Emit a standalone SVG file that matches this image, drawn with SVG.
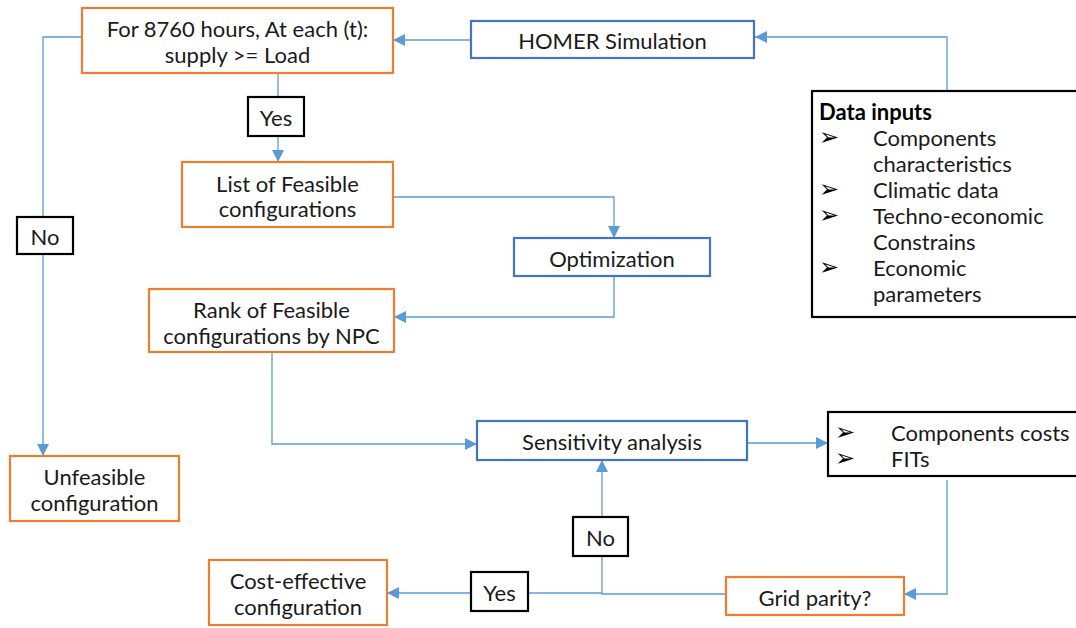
<svg xmlns="http://www.w3.org/2000/svg" width="1076" height="628" viewBox="0 0 1076 628">
<style>
.bg{fill:#ffffff}
.or{fill:#fff;stroke:#ED7D31;stroke-width:2.2}
.bl{fill:#fff;stroke:#4472C4;stroke-width:2.2}
.bk{fill:#fff;stroke:#000;stroke-width:2.2}
.t{font-family:Lato,"Open Sans",sans-serif;font-size:22px;fill:#1a1a1a;text-anchor:middle;dominant-baseline:central}
.tl{font-family:Lato,"Open Sans",sans-serif;font-size:22px;fill:#1a1a1a;dominant-baseline:central}
.tb{font-weight:bold;fill:#000}
.bu{font-family:"DejaVu Sans",sans-serif;font-size:24px;fill:#000;dominant-baseline:central}
.c{fill:none;stroke:#5B9BD5;stroke-width:1.3}
</style>
<defs>
<marker id="ah" markerUnits="userSpaceOnUse" markerWidth="12" markerHeight="12" viewBox="0 0 12 12" refX="12" refY="6" orient="auto">
<path d="M0,0 L12,6 L0,12 Z" fill="#5B9BD5"/>
</marker>
</defs>
<rect class="bg" x="0" y="0" width="1076" height="628"/>
<g id="connectors">
<path class="c" d="M471,40 H393" marker-end="url(#ah)"/>
<path class="c" d="M947,91 V37 H755" marker-end="url(#ah)"/>
<path class="c" d="M82,37 H43 V456" marker-end="url(#ah)"/>
<path class="c" d="M278,73 V162" marker-end="url(#ah)"/>
<path class="c" d="M393,197 H614 V238" marker-end="url(#ah)"/>
<path class="c" d="M614,276 V317 H394" marker-end="url(#ah)"/>
<path class="c" d="M272,352 V444 H477" marker-end="url(#ah)"/>
<path class="c" d="M747,443 H828" marker-end="url(#ah)"/>
<path class="c" d="M947,480 V594 H904" marker-end="url(#ah)"/>
<path class="c" d="M726,594 H602 V460" marker-end="url(#ah)"/>
<path class="c" d="M602,593 H387" marker-end="url(#ah)"/>
</g>
<g id="check">
<rect class="or" x="82" y="8" width="311" height="65"/>
<text class="t" x="237.5" y="28">For 8760 hours, At each (t):</text>
<text class="t" x="237.5" y="54">supply &gt;= Load</text>
</g>
<g id="homer">
<rect class="bl" x="471" y="21" width="283" height="37"/>
<text class="t" x="612.5" y="40">HOMER Simulation</text>
</g>
<g id="datainputs">
<rect class="bk" x="812" y="91" width="266" height="226"/>
<text class="tl tb" x="819" y="111">Data inputs</text>
<text class="bu" x="819" y="137">➢</text>
<text class="tl" x="873" y="137">Components</text>
<text class="tl" x="873" y="163">characteristics</text>
<text class="bu" x="819" y="189">➢</text>
<text class="tl" x="873" y="189">Climatic data</text>
<text class="bu" x="819" y="215">➢</text>
<text class="tl" x="873" y="215">Techno-economic</text>
<text class="tl" x="873" y="241">Constrains</text>
<text class="bu" x="819" y="267">➢</text>
<text class="tl" x="873" y="267">Economic</text>
<text class="tl" x="873" y="293">parameters</text>
</g>
<g id="yes1">
<rect class="bk" x="248" y="97" width="56" height="39"/>
<text class="t" x="276" y="117">Yes</text>
</g>
<g id="list">
<rect class="or" x="182" y="162" width="211" height="65"/>
<text class="t" x="287.5" y="183">List of Feasible</text>
<text class="t" x="287.5" y="208">configurations</text>
</g>
<g id="no1">
<rect class="bk" x="17" y="217" width="56" height="37"/>
<text class="t" x="45" y="236">No</text>
</g>
<g id="optimization">
<rect class="bl" x="514" y="238" width="196" height="38"/>
<text class="t" x="612" y="258">Optimization</text>
</g>
<g id="rank">
<rect class="or" x="149" y="289" width="245" height="63"/>
<text class="t" x="271.5" y="309">Rank of Feasible</text>
<text class="t" x="271.5" y="335">configurations by NPC</text>
</g>
<g id="sensitivity">
<rect class="bl" x="477" y="421" width="270" height="39"/>
<text class="t" x="612" y="441">Sensitivity analysis</text>
</g>
<g id="costs">
<rect class="bk" x="828" y="412" width="250" height="64"/>
<text class="bu" x="835" y="432">➢</text>
<text class="tl" x="891" y="432">Components costs</text>
<text class="bu" x="835" y="458">➢</text>
<text class="tl" x="891" y="458">FITs</text>
</g>
<g id="unfeasible">
<rect class="or" x="10" y="456" width="169" height="65"/>
<text class="t" x="94.5" y="476">Unfeasible</text>
<text class="t" x="94.5" y="502">configuration</text>
</g>
<g id="no2">
<rect class="bk" x="573" y="517" width="55" height="39"/>
<text class="t" x="600.5" y="537">No</text>
</g>
<g id="yes2">
<rect class="bk" x="471" y="572" width="57" height="39"/>
<text class="t" x="499.5" y="592">Yes</text>
</g>
<g id="gridparity">
<rect class="or" x="726" y="577" width="178" height="38"/>
<text class="t" x="815" y="597">Grid parity?</text>
</g>
<g id="costeffective">
<rect class="or" x="209" y="560" width="178" height="65"/>
<text class="t" x="298" y="580">Cost-effective</text>
<text class="t" x="298" y="606">configuration</text>
</g>
</svg>
